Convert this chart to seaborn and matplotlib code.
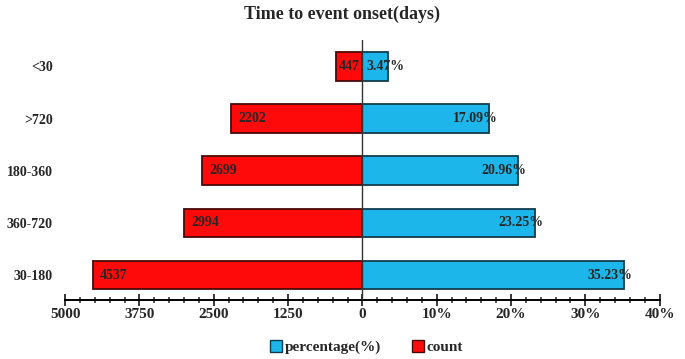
import pandas as pd
import matplotlib
matplotlib.use("Agg")
import matplotlib.pyplot as plt
from matplotlib.patches import Patch
from matplotlib.ticker import MultipleLocator
import seaborn as sns

# data
groups = ["<30", ">720", "180-360", "360-720", "30-180"]
counts = [447, 2202, 2699, 2994, 4537]
percentages = [3.47, 17.09, 20.96, 23.25, 35.23]
tick_pos = [-40, -30, -20, -10, 0, 10, 20, 30, 40]
tick_labels = ["5000", "3750", "2500", "1250", "0", "10%", "20%", "30%", "40%"]

# count axis 0..5000 shares the length of 0..40%
scale = 40 / 5000

sns.set_style("white")
plt.rcParams["font.family"] = ["Liberation Serif", "DejaVu Serif"]
plt.rcParams["font.weight"] = "bold"

red = "#FF0A0A"
blue = "#1CB6EA"

df_count = pd.DataFrame({"group": groups, "value": [-c * scale for c in counts]})
df_pct = pd.DataFrame({"group": groups, "value": percentages})

fig = plt.figure(figsize=(6.85, 3.59), dpi=100)
ax = fig.add_axes([0.095, 0.164, 0.868, 0.725])

sns.barplot(data=df_count, y="group", x="value", order=groups, color=red,
            saturation=1, width=0.55, edgecolor="#4a0a0a", linewidth=1.3, ax=ax)
sns.barplot(data=df_pct, y="group", x="value", order=groups, color=blue,
            saturation=1, width=0.55, edgecolor="#123c4c", linewidth=1.3, ax=ax)

# bar labels
for i, (c, p) in enumerate(zip(counts, percentages)):
    xc = -c * scale
    if c * scale > 6:
        ax.text(xc + 1.0, i, str(c), ha="left", va="center", fontsize=10, fontweight="bold")
    else:
        ax.text(-0.4, i, str(c), ha="right", va="center", fontsize=10, fontweight="bold")
    if p > 6:
        ax.text(p + 1.1, i, f"{p:.2f}%", ha="right", va="center", fontsize=10, fontweight="bold")
    else:
        ax.text(0.6, i, f"{p:.2f}%", ha="left", va="center", fontsize=10, fontweight="bold")

ax.axvline(0, color="#333333", lw=1, zorder=5)

ax.set_xlim(-40, 40)
ax.set_ylim(4.48, -0.51)
ax.set_xticks(tick_pos)
ax.set_xticklabels(tick_labels, fontsize=11, fontweight="bold")
ax.xaxis.set_minor_locator(MultipleLocator(2))
ax.tick_params(axis="x", which="major", direction="inout", length=9, width=1.3, pad=1.5, bottom=True)
ax.tick_params(axis="x", which="minor", direction="inout", length=5, width=1.1, bottom=True)
ax.tick_params(axis="y", length=0, pad=9, labelsize=10)
for lab in ax.get_yticklabels():
    lab.set_fontweight("bold")
ax.set_xlabel("")
ax.set_ylabel("")

for s in ["top", "right", "left"]:
    ax.spines[s].set_visible(False)
ax.spines["bottom"].set_color("black")
ax.spines["bottom"].set_linewidth(1.4)

fig.suptitle("Time to event onset(days)", y=0.985, fontsize=13, fontweight="bold")

handles = [Patch(facecolor=blue, edgecolor="#123c4c", label="percentage(%)"),
           Patch(facecolor=red, edgecolor="#4a0a0a", label="count")]
fig.legend(handles=handles, loc="lower center", bbox_to_anchor=(0.535, -0.025), ncol=2,
           frameon=False, handlelength=0.8, handleheight=0.8, handletextpad=0.2,
           columnspacing=2.0, prop={"weight": "bold", "size": 11})

fig.savefig("out.png", dpi=100)
